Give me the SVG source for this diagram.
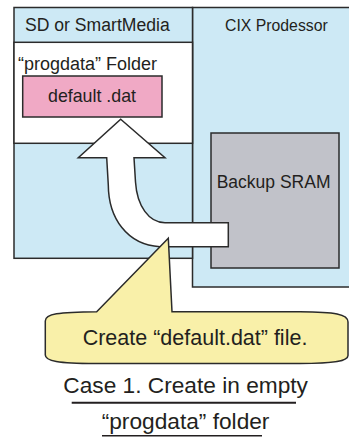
<svg xmlns="http://www.w3.org/2000/svg" width="349" height="437" viewBox="0 0 349 437">
<style>
.ln{stroke:#2b2b2b;stroke-width:1.5;stroke-linejoin:miter}
.blue{fill:#cde9f5}
.t{font-family:"Liberation Sans",Arial,sans-serif;fill:#231f20}
</style>
<rect width="349" height="437" fill="#ffffff"/>
<g id="cix">
<rect class="ln blue" x="192.5" y="7.5" width="160" height="279.5"/>
<text class="t" x="225" y="31" font-size="15.8">CIX Prodessor</text>
</g>
<g id="sram">
<rect class="ln" x="211" y="133" width="128" height="135" fill="#c1c2c9"/>
<text class="t" x="216.7" y="188" font-size="17.5">Backup SRAM</text>
</g>
<g id="sd">
<rect class="ln blue" x="14" y="7.5" width="178.5" height="250.8"/>
<rect class="ln" x="14" y="42.3" width="178.5" height="101" fill="#ffffff"/>
<text class="t" x="25" y="31" font-size="17.6">SD or SmartMedia</text>
<text class="t" x="18" y="70" font-size="18">“progdata” Folder</text>
</g>
<g id="default-dat">
<rect class="ln" x="22.7" y="76" width="139.3" height="41" fill="#f0a9c5"/>
<text class="t" x="92" y="101.7" font-size="17.8" text-anchor="middle">default .dat</text>
</g>
<g id="connectors">
<path class="ln" fill="#ffffff" d="M120.7,119.3 L165,157.7 L134,157.7 L135.5,182 C137,206 149,222.7 165,222.7 L228.3,222.7 L228.3,246.7 L160,246.7 C127,245 108.5,218 108.3,185 L106.7,157.7 L78.3,157.7 Z"/>
</g>
<g id="callout">
<path class="ln" fill="#f9f0a9" d="M96.7,311.7 L168.3,238.3 L172,311.7 L300,311.7 C335,312 348,314 348,322 L348,355.5 C348,361 335,363.5 300,363.5 L95,363.5 C58,363.5 45.3,361 45.3,355 L45.3,321 C45.3,314 58,312 96.7,311.7 Z"/>
<text class="t" x="82.7" y="345" font-size="21.5">Create “default.dat” file.</text>
</g>
<g id="caption">
<text class="t" x="63.3" y="392.7" font-size="22.7">Case 1. Create in empty</text>
<line x1="71.7" y1="402.7" x2="296" y2="402.7" stroke="#231f20" stroke-width="2"/>
<text class="t" x="101.7" y="429.3" font-size="22.7">“progdata” folder</text>
<line x1="102" y1="435.7" x2="262" y2="435.7" stroke="#231f20" stroke-width="1.5"/>
</g>
</svg>
